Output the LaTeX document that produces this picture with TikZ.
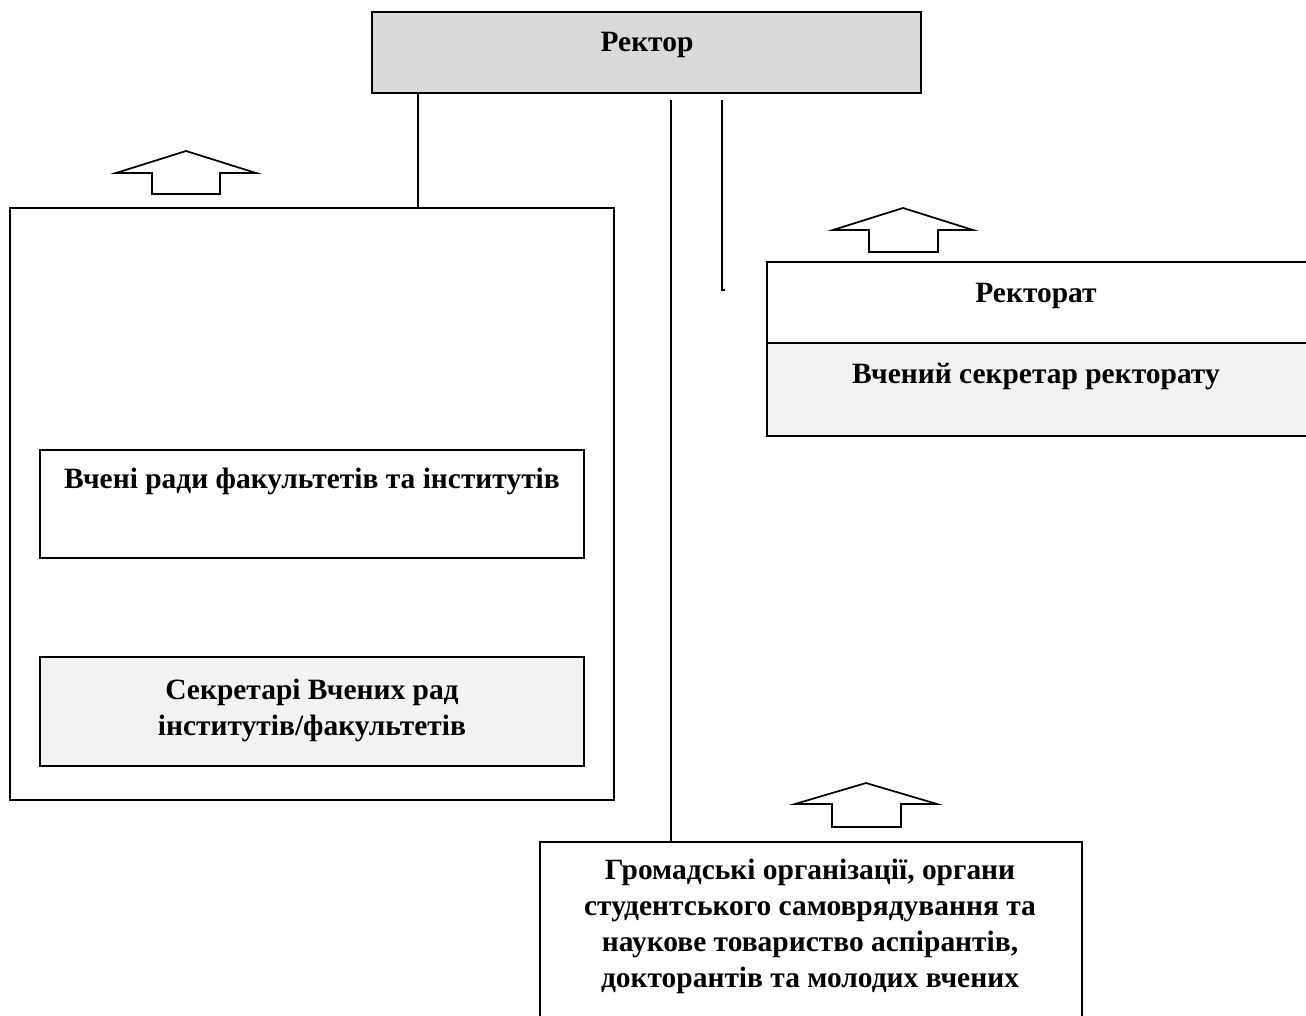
\documentclass[tikz,border=0pt]{standalone}
\usepackage{fontspec}
\setmainfont{Liberation Serif}
\usetikzlibrary{fit,calc}
\definecolor{rgray}{HTML}{D9D9D9}
\definecolor{lgray}{HTML}{F2F2F2}
\begin{document}
\begin{tikzpicture}[x=0.75pt,y=-0.75pt,
  box/.style={draw=black,line width=1.3pt,inner sep=0pt,rectangle},
  lbl/.style={font=\fontsize{22.1}{27}\selectfont\bfseries,align=center,inner sep=0pt},
  conn/.style={line width=1.3pt},
  uparrow/.style={draw=black,line width=1.3pt,fill=white,line join=miter}]
\useasboundingbox (0,0) rectangle (1306,1016);
% boxes
\node[box,fill=rgray,fit={(372,12)(921,93)}] (rector) {};
\node[box,fit={(10,208)(614,800)}] (council) {};
\node[box,fit={(40,450)(584,558)}] (facul) {};
\node[box,fill=lgray,fit={(40,657)(584,766)}] (secr) {};
\node[box,fit={(767,262)(1312,343)}] (rectorat) {};
\node[box,fill=lgray,fit={(767,343)(1312,436)}] (vsecr) {};
\node[box,fit={(540,842)(1082,1024)}] (public) {};
% texts
\node[lbl] (trector) at (647,45) {Ректор};
\node[lbl] (tfacul) at (312,481) {Вчені ради факультетів та інститутів};
\node[lbl] (tsecr) at (312,710) {Секретарі Вчених рад\\інститутів/факультетів};
\node[lbl] (trectorat) at (1036,296) {Ректорат};
\node[lbl] (tvsecr) at (1036,377) {Вчений секретар ректорату};
\node[lbl] (tpublic) at (810,926) {Громадські організації, органи\\студентського самоврядування та\\наукове товариство аспірантів,\\докторантів та молодих вчених};
% connectors
\draw[conn] (418,0 |- rector.south) -- (418,0 |- council.north);
\draw[conn] (671,100) -- (671,0 |- public.north);
\coordinate (rtick) at (722,290);
\draw[conn] (722,100) -- (rtick) -- ++(3,0);
% block arrows
\draw[uparrow] (186,151) -- (256,173) -- (220,173) -- (220,194) -- (152,194) -- (152,173) -- (116,173) -- cycle;
\draw[uparrow] (903,208) -- (973,230) -- (938,230) -- (938,252) -- (869,252) -- (869,230) -- (833,230) -- cycle;
\draw[uparrow] (866,783) -- (937,804) -- (901,804) -- (901,827) -- (832,827) -- (832,804) -- (795,804) -- cycle;
\end{tikzpicture}
\end{document}
